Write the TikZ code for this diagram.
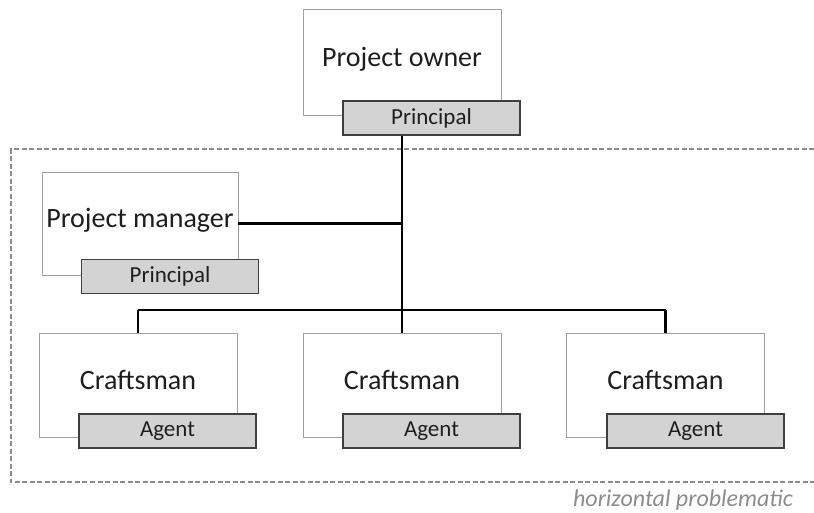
\documentclass[tikz,border=0pt]{standalone}
\usepackage{fontspec}
\setmainfont{Carlito}
\definecolor{txtgray}{RGB}{30,30,30}
\definecolor{rolefill}{RGB}{211,211,211}
\definecolor{roleline}{RGB}{64,64,64}
\definecolor{boxline}{RGB}{160,160,160}
\definecolor{dashgray}{RGB}{140,140,140}
\begin{document}
\begin{tikzpicture}[x=1pt,y=-1pt,
  every node/.style={text=txtgray},
  partybox/.style={draw=boxline,line width=0.9pt,fill=white,minimum width=198pt,minimum height=104pt,
    inner sep=0pt,font=\fontsize{28}{30}\selectfont,text height=20pt,text depth=12pt},
  rolebox/.style={draw=roleline,line width=1.3pt,fill=rolefill,minimum width=177pt,minimum height=34pt,
    inner sep=0pt,font=\fontsize{23}{25}\selectfont},
  link/.style={line width=2.2pt,black}]
\useasboundingbox (0,0) rectangle (814,512);
% principal on top
\node[partybox,minimum height=106pt] (owner) at (402,62) {Project owner};
\node[rolebox] (ownerrole) at (431.5,118) {Principal};
% horizontal problematic frame
\draw[dashgray,line width=1.4pt,dash pattern=on 5pt off 2.5pt] (814,149) -- (11,149) -- (11,482) -- (814,482);
\node[text=dashgray,font=\fontsize{24}{26}\selectfont\itshape] (frametitle) at (683,500) {horizontal problematic};
\node[partybox,minimum width=196pt,minimum height=103pt] (manager) at (140,223.5) {Project manager};
\node[rolebox] (managerrole) at (170,276.5) {Principal};
\node[partybox] (craftA) at (138,385) {Craftsman};
\node[rolebox] (agentA) at (167.5,431) {Agent};
\node[partybox] (craftB) at (402,385) {Craftsman};
\node[rolebox] (agentB) at (431.5,431) {Agent};
\node[partybox] (craftC) at (665.5,385) {Craftsman};
\node[rolebox] (agentC) at (695.5,431) {Agent};
% connectors
\coordinate (top) at (owner.south |- ownerrole.south);
\coordinate (bus) at (top |- 0,310);
\draw[link] (top) -- (bus);
\draw[link] (manager.east) -- (top |- manager.east);
\draw[link] (craftA.north |- bus) -- (craftC.north |- bus);
\foreach \c in {craftA,craftB,craftC}
  \draw[link] (\c.north) -- (\c.north |- bus);
\end{tikzpicture}
\end{document}
